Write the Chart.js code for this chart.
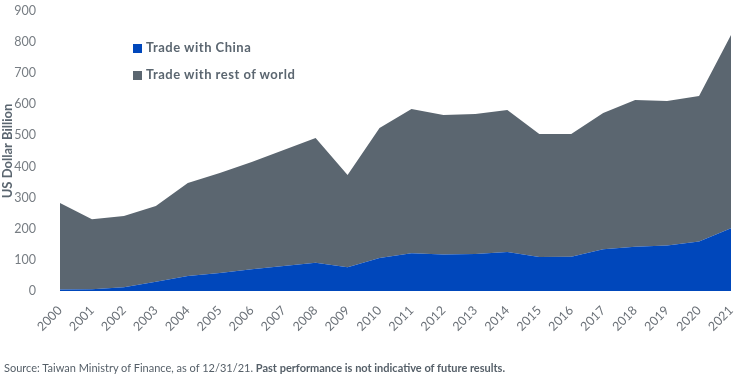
<!DOCTYPE html>
<html>
<head>
<meta charset="utf-8">
<script src="https://cdn.jsdelivr.net/npm/chart.js@4/dist/chart.umd.min.js"></script>
<style>
  html, body { margin: 0; padding: 0; background: #fff; }
  #wrap { position: relative; width: 742px; height: 380px; font-family: Lato, "Open Sans", sans-serif; }
  canvas { position: absolute; left: 0; top: 0; }
  .leg { position: absolute; left: 133px; font-weight: bold; font-size: 13px; color: #5b6670; white-space: nowrap; letter-spacing: 0.5px; }
  .leg span.sw { display: inline-block; width: 9px; height: 9px; margin-right: 4px; vertical-align: -1px; }
  #foot { position: absolute; left: 4px; top: 361px; font-size: 11px; color: #555f68; white-space: nowrap; }
</style>
</head>
<body>
<div id="wrap">
  <canvas id="c" width="742" height="380"></canvas>
  <div class="leg" style="top:39px"><span class="sw" style="background:#0047bb"></span>Trade with China</div>
  <div class="leg" style="top:66px"><span class="sw" style="background:#5b6670"></span>Trade with rest of world</div>
  <div id="foot">Source: Taiwan Ministry of Finance, as of 12/31/21. <b>Past performance is not indicative of future results.</b></div>
</div>
<script>
const years = ["2000","2001","2002","2003","2004","2005","2006","2007","2008","2009","2010","2011","2012","2013","2014","2015","2016","2017","2018","2019","2020","2021"];
const tradeChina = [5, 6, 12, 30, 48, 58, 70, 80, 91, 76, 106, 121, 117, 119, 125, 109, 110, 134, 142, 146, 159, 202];
const tradeTotal = [283, 231, 241, 273, 347, 379, 415, 453, 492, 373, 524, 585, 566, 569, 582, 505, 505, 572, 614, 611, 627, 823];
const tradeRest = tradeTotal.map((t, i) => t - tradeChina[i]);
const yTicks = [0, 100, 200, 300, 400, 500, 600, 700, 800, 900];

new Chart(document.getElementById('c'), {
  type: 'line',
  data: {
    labels: years,
    datasets: [
      { label: 'Trade with China', data: tradeChina, backgroundColor: '#0047bb', borderColor: '#0047bb', borderWidth: 0, pointRadius: 0, fill: 'origin', tension: 0 },
      { label: 'Trade with rest of world', data: tradeRest, backgroundColor: '#5b6670', borderColor: '#5b6670', borderWidth: 0, pointRadius: 0, fill: '-1', tension: 0 }
    ]
  },
  options: {
    responsive: false,
    animation: false,
    layout: { padding: { top: 11, right: 11, bottom: 44, left: 0 } },
    plugins: { legend: { display: false }, tooltip: { enabled: false } },
    scales: {
      x: {
        offset: false,
        grid: { display: false },
        border: { display: false },
        ticks: { maxRotation: 45, minRotation: 45, padding: 4, color: '#6b7178', font: { family: 'Lato', size: 12.5 } },
        afterFit: s => { s.height = 45; s.paddingTop = 0; s.paddingBottom = 0; s.paddingLeft = 0; s.paddingRight = 0; }
      },
      y: {
        stacked: true,
        min: 0, max: 900,
        afterBuildTicks: s => { s.ticks = yTicks.map(v => ({ value: v })); },
        grid: { display: false },
        border: { display: false },
        ticks: { padding: 16, color: '#777d83', font: { family: 'Lato', size: 12.5 } },
        title: { display: true, text: 'US Dollar Billion', color: '#5b6670', padding: { top: 0, bottom: 0 }, font: { family: 'Lato', size: 13, weight: 'bold' } },
        afterFit: s => { s.width = 60; s.paddingTop = 0; s.paddingBottom = 0; }
      }
    }
  }
});
</script>
</body>
</html>
